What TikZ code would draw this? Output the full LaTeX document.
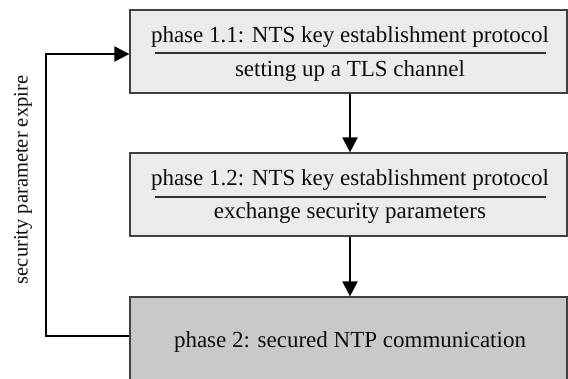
\documentclass[tikz,border=0pt]{standalone}
\usepackage{fontspec}
\setmainfont{Liberation Serif}
\usetikzlibrary{arrows.meta}
\begin{document}
\begin{tikzpicture}[x=1pt,y=1pt,
  phasebox/.style={draw=black!75, line width=1.2pt, fill=black!8, minimum width=437pt, minimum height=83pt, inner sep=0pt},
  darkbox/.style={phasebox, fill=black!21},
  lbl/.style={font=\fontsize{23}{26}\selectfont, inner sep=0pt, text=black!95},
  sidelbl/.style={font=\fontsize{20.5}{24}\selectfont, inner sep=0pt, text=black!95},
  sep/.style={draw=black!80, line width=1.2pt},
  flow/.style={draw=black, line width=2pt, -{Triangle[length=15pt,width=15pt]}}]
\clip (0,0) rectangle (568,378);
\node[phasebox] (b1) at (348.5,326.5) {};
\node[phasebox] (b2) at (348.5,183.5) {};
\node[darkbox, minimum height=93pt] (b3) at (348.5,34.5) {};
\node[lbl] (t11) at (350,341) {phase 1.1: NTS key establishment protocol};
\node[lbl] (t12) at (350,307) {setting up a TLS channel};
\node[lbl] (t21) at (350,198) {phase 1.2: NTS key establishment protocol};
\node[lbl] (t22) at (350,165) {exchange security parameters};
\node[lbl] (t3) at (350,36) {phase 2: secured NTP communication};
\draw[sep] (155,325) -- (546,325);
\draw[sep] (155,181) -- (546,181);
\node[sidelbl, rotate=90] (fb) at (23,198) {security parameter expire};
\coordinate (c1) at (46,42);
\coordinate (c2) at (46,324);
\draw[flow] (b1.south -| 350,0) -- (b2.north -| 350,0);
\draw[flow] (b2.south -| 350,0) -- (b3.north -| 350,0);
\draw[flow] (b3.west |- c1) -- (c1) -- (c2) -- (b1.west |- c2);
\end{tikzpicture}
\end{document}
